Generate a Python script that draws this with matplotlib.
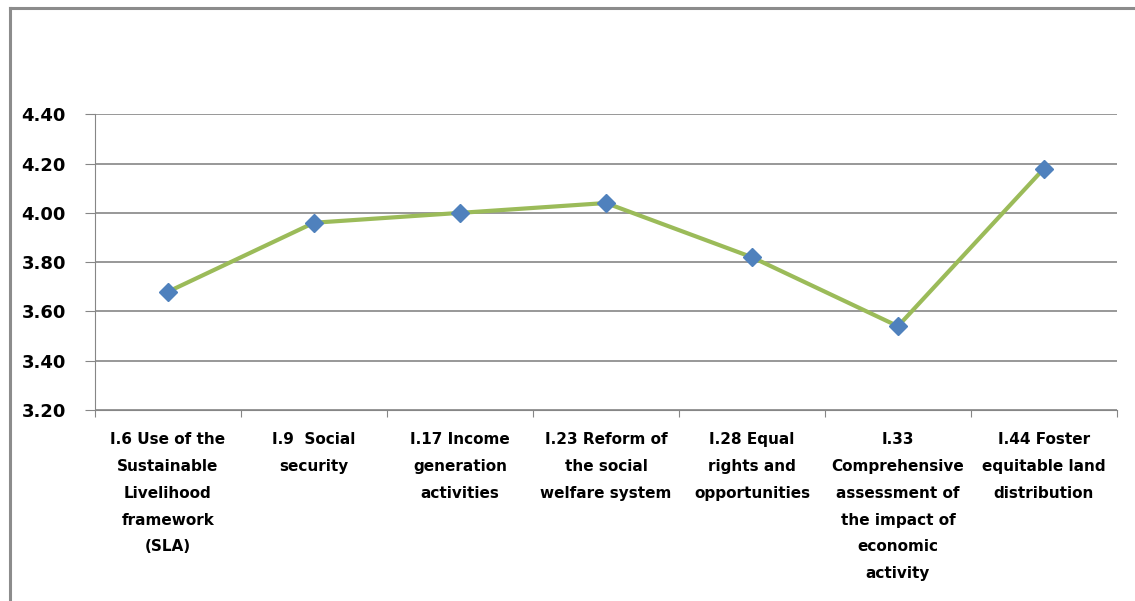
import matplotlib
matplotlib.use("Agg")
import matplotlib.pyplot as plt
from matplotlib.lines import Line2D

# Mean scores per indicator
categories = [
    "I.6 Use of the\nSustainable\nLivelihood\nframework\n(SLA)",
    "I.9  Social\nsecurity",
    "I.17 Income\ngeneration\nactivities",
    "I.23 Reform of\nthe social\nwelfare system",
    "I.28 Equal\nrights and\nopportunities",
    "I.33\nComprehensive\nassessment of\nthe impact of\neconomic\nactivity",
    "I.44 Foster\nequitable land\ndistribution",
]
scores = [3.68, 3.96, 4.00, 4.04, 3.82, 3.54, 4.18]
y_ticks = [3.20, 3.40, 3.60, 3.80, 4.00, 4.20, 4.40]

plt.rcParams["font.family"] = ["DejaVu Sans"]

fig = plt.figure(figsize=(11.35, 6.01), dpi=100)
ax = fig.add_axes([0.0837, 0.3178, 0.9004, 0.492])

x = list(range(len(scores)))
ax.plot(x, scores, color="#9BBB59", linewidth=3.0, zorder=3)
ax.plot(x, scores, linestyle="none", marker="D", markersize=9.5,
        color="#4F81BD", zorder=4)

ax.set_xlim(-0.5, len(scores) - 0.5)
ax.set_ylim(3.20, 4.40)
ax.set_yticks(y_ticks)
ax.set_yticklabels([f"{v:.2f}" for v in y_ticks], fontsize=13, fontweight="bold")
ax.yaxis.grid(True, color="#868686", linewidth=1.2)
ax.set_axisbelow(True)

# category ticks sit on the boundaries between groups
ax.set_xticks([i - 0.5 for i in range(len(scores) + 1)], minor=False)
ax.set_xticklabels([])
ax.set_xticks(x, minor=True)
ax.set_xticklabels(categories, minor=True, fontsize=11, fontweight="bold",
                   linespacing=1.98, va="top")
ax.tick_params(axis="x", which="major", length=5, color="#868686", direction="out")
ax.tick_params(axis="x", which="minor", length=0, pad=16)
ax.tick_params(axis="y", length=7, color="#868686", pad=14)

for side in ["top", "right"]:
    ax.spines[side].set_visible(False)
ax.spines["left"].set_color("#868686")
ax.spines["bottom"].set_color("#868686")

# outer chart frame (left and top edges)
fig.add_artist(Line2D([0.0085, 0.0085], [0, 0.9875], color="#8C8C8C", linewidth=2.2))
fig.add_artist(Line2D([0.0085, 1.0], [0.9875, 0.9875], color="#8C8C8C", linewidth=2.2))

fig.savefig("out.png", dpi=100, facecolor="white")
